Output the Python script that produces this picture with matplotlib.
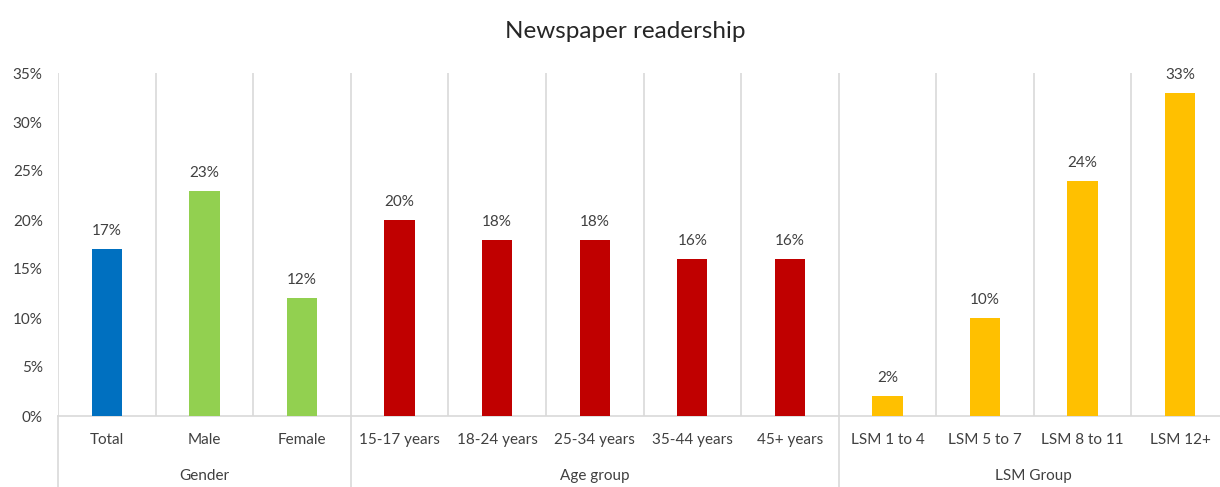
import numpy as np
import matplotlib.pyplot as plt
import matplotlib.transforms as mtransforms

plt.rcParams['font.family'] = ['Lato', 'DejaVu Sans']

categories = ["Total", "Male", "Female", "15-17 years", "18-24 years", "25-34 years",
              "35-44 years", "45+ years", "LSM 1 to 4", "LSM 5 to 7", "LSM 8 to 11", "LSM 12+"]
values = [17, 23, 12, 20, 18, 18, 16, 16, 2, 10, 24, 33]
groups = ["Gender", "Age group", "LSM Group"]
group_sizes = [3, 5, 4]
group_colors = ["#92D050", "#C00000", "#FFC000"]
total_color = "#0070C0"

# one colour per bar: the total bar is blue, the rest coloured by group
colors = []
for g, n in enumerate(group_sizes):
    colors += [group_colors[g]] * n
colors[0] = total_color

W, H = 1220, 487
fig = plt.figure(figsize=(W / 100, H / 100), dpi=100)
x0, x1, y0, y1 = 58, 1229, 416, 73
ax = fig.add_axes([x0 / W, (H - y0) / H, (x1 - x0) / W, (y0 - y1) / H])

x = np.arange(len(categories))
ax.bar(x, values, width=0.31, color=colors, zorder=3)
for xi, v in zip(x, values):
    ax.annotate(f"{v}%", (xi, v), xytext=(0, 13), textcoords="offset points",
                ha="center", va="center", fontsize=11, color="#404040")

ax.set_xlim(-0.5, len(categories) - 0.5)
ax.set_ylim(0, 35)
ax.set_yticks(np.arange(0, 36, 5))
ax.set_yticklabels([f"{t}%" for t in range(0, 36, 5)])
ax.tick_params(axis="y", length=0, pad=11, labelsize=11, labelcolor="#404040")
ax.set_xticks([])
for s in ["top", "right", "left"]:
    ax.spines[s].set_visible(False)
ax.spines["bottom"].set_color("#D9D9D9")
ax.spines["bottom"].set_linewidth(1.2)

# vertical separators between categories
for k in range(len(categories)):
    ax.axvline(k - 0.5, color="#D9D9D9", lw=1.2, zorder=1)

trans = mtransforms.blended_transform_factory(ax.transData, ax.transAxes)
below = -(487 - y0) / (y0 - y1)
for xi, c in zip(x, categories):
    ax.text(xi, -24 / (y0 - y1), c, transform=trans, ha="center", va="center",
            fontsize=11, color="#404040")

# group separators and group names under the axis
start = 0
bounds = [-0.5]
for g, n in zip(groups, group_sizes):
    ax.text(start + (n - 1) / 2, -60 / (y0 - y1), g, transform=trans, ha="center",
            va="center", fontsize=11, color="#404040")
    start += n
    bounds.append(start - 0.5)
for b in bounds:
    ax.plot([b, b], [0, below], transform=trans, color="#D9D9D9", lw=1.2, clip_on=False)

fig.text(625 / W, 1 - 32 / H, "Newspaper readership", ha="center", va="center",
         fontsize=17.5, color="#262626")

fig.savefig("out.png", dpi=100)
